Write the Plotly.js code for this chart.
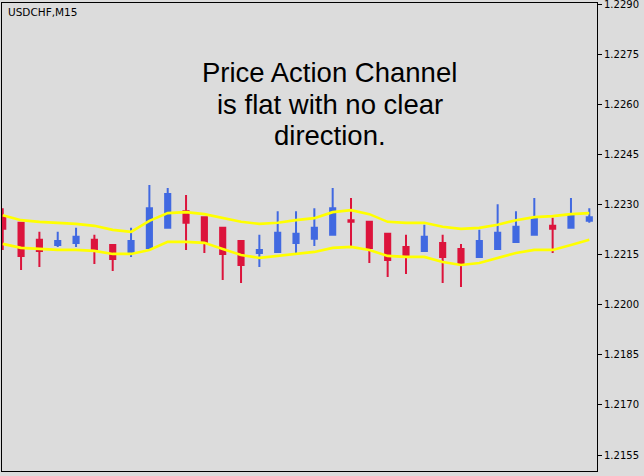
<!DOCTYPE html>
<html>
<head>
<meta charset="utf-8">
<script src="https://cdn.plot.ly/plotly-3.0.1.min.js"></script>
<style>html,body{margin:0;padding:0;background:#dcdcdc;}#chart{width:644px;height:476px;}</style>
</head>
<body>
<div id="chart"></div>
<script>
var bars  = [0,1,2,3,4,5,6,7,8,9,10,11,12,13,14,15,16,17,18,19,20,21,22,23,24,25,26,27,28,29,30,31,32];
var open  = [1.22260,1.22245,1.22194,1.22179,1.22185,1.22194,1.22179,1.22158,1.22170,1.22230,1.22280,1.22262,1.22230,1.22191,1.22155,1.22158,1.22185,1.22197,1.22209,1.22253,1.22248,1.22212,1.22173,1.22161,1.22185,1.22167,1.22143,1.22167,1.22188,1.22209,1.22236,1.22230,1.22251];
var high  = [1.22289,1.22247,1.22218,1.22218,1.22230,1.22209,1.22182,1.22230,1.22358,1.22349,1.22328,1.22264,1.22231,1.22192,1.22209,1.22280,1.22280,1.22289,1.22349,1.22319,1.22249,1.22213,1.22209,1.22239,1.22209,1.22182,1.22224,1.22301,1.22280,1.22319,1.22260,1.22319,1.22289];
var low   = [1.22164,1.22104,1.22113,1.22173,1.22173,1.22122,1.22101,1.22143,1.22167,1.22227,1.22164,1.22155,1.22074,1.22065,1.22113,1.22155,1.22155,1.22176,1.22206,1.22173,1.22125,1.22083,1.22092,1.22158,1.22065,1.22053,1.22140,1.22164,1.22185,1.22206,1.22155,1.22227,1.22245];
var close = [1.22227,1.22146,1.22161,1.22191,1.22203,1.22167,1.22137,1.22191,1.22289,1.22331,1.22245,1.22188,1.22152,1.22119,1.22164,1.22215,1.22212,1.22230,1.22289,1.22248,1.22170,1.22134,1.22149,1.22203,1.22143,1.22125,1.22191,1.22215,1.22233,1.22257,1.22227,1.22268,1.22262];
var channelUpper = [1.22268,1.22253,1.22248,1.22245,1.22242,1.22236,1.22224,1.22218,1.22251,1.22274,1.22277,1.22271,1.22259,1.22248,1.22242,1.22245,1.22253,1.22259,1.22277,1.22283,1.22271,1.22248,1.22245,1.22245,1.22233,1.22227,1.22230,1.22239,1.22253,1.22262,1.22265,1.22271,1.22274];
var channelLower = [1.22182,1.22170,1.22167,1.22164,1.22164,1.22161,1.22152,1.22152,1.22164,1.22188,1.22188,1.22185,1.22167,1.22149,1.22140,1.22146,1.22152,1.22158,1.22170,1.22173,1.22164,1.22146,1.22143,1.22143,1.22128,1.22119,1.22125,1.22140,1.22155,1.22164,1.22164,1.22179,1.22194];
var tickValues = [1.2155,1.2170,1.2185,1.2200,1.2215,1.2230,1.2245,1.2260,1.2275,1.2290];
var tickLabels = ["1.2155","1.2170","1.2185","1.2200","1.2215","1.2230","1.2245","1.2260","1.2275","1.2290"];
var symbolLabel = "USDCHF,M15";
var noteLines = ["Price Action Channel", "is flat with no clear", "direction."];

var traces = [
  {type:'candlestick', x:bars, open:open, high:high, low:low, close:close,
   increasing:{line:{color:'#4169e1',width:2}, fillcolor:'#4169e1'},
   decreasing:{line:{color:'#dc143c',width:2}, fillcolor:'#dc143c'},
   whiskerwidth:0, showlegend:false, hoverinfo:'skip'},
  {type:'scatter', mode:'lines', x:bars, y:channelUpper, line:{color:'#ffff00',width:2.6}, showlegend:false, hoverinfo:'skip'},
  {type:'scatter', mode:'lines', x:bars, y:channelLower, line:{color:'#ffff00',width:2.6}, showlegend:false, hoverinfo:'skip'}
];

var noteTops = [0.889, 0.8205, 0.7543];
var annotations = [
  {xref:'paper', yref:'paper', x:0.006, y:0.997, xanchor:'left', yanchor:'top', showarrow:false,
   text:symbolLabel, font:{family:'DejaVu Sans, sans-serif', size:10.5, color:'#000000'}}
];
noteLines.forEach(function(t, i){
  annotations.push({xref:'paper', yref:'paper', x:0.5505, y:noteTops[i], xanchor:'center', yanchor:'top',
    showarrow:false, text:t, font:{family:'Liberation Sans, Arial, sans-serif', size:27.5, color:'#000000'}});
});

var layout = {
  width:644, height:476,
  margin:{l:2, r:47, t:3, b:5},
  paper_bgcolor:'#dcdcdc', plot_bgcolor:'#dcdcdc',
  boxgap:0.6,
  showlegend:false,
  xaxis:{range:[-0.04,32.42], showgrid:false, zeroline:false, showticklabels:false, ticks:'',
         showline:true, mirror:true, linecolor:'#000000', linewidth:1,
         rangeslider:{visible:false}, fixedrange:true},
  yaxis:{side:'right', range:[1.215022,1.229030], tickvals:tickValues, ticktext:tickLabels,
         showgrid:false, zeroline:false, ticks:'outside', ticklen:4, tickcolor:'#000000',
         ticklabeloverflow:'allow',
         showline:true, mirror:true, linecolor:'#000000', linewidth:1,
         tickfont:{family:'DejaVu Sans, sans-serif', size:10, color:'#000000'}, fixedrange:true},
  annotations:annotations
};

Plotly.newPlot('chart', traces, layout, {staticPlot:true, displayModeBar:false});
</script>
</body>
</html>
